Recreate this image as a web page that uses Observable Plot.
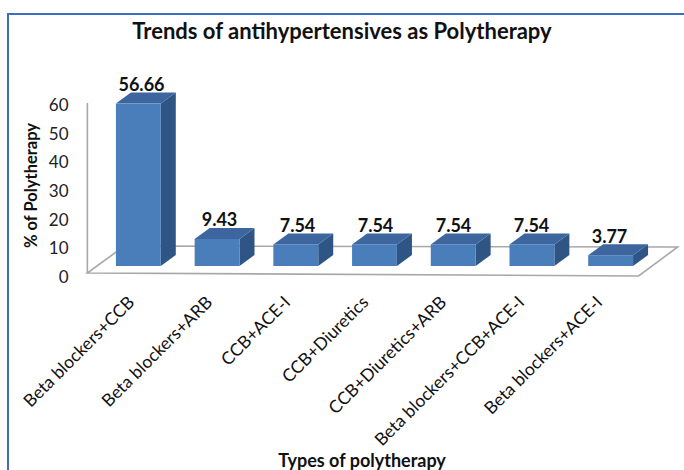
<!DOCTYPE html>
<html>
<head>
<meta charset="utf-8">
<script src="https://cdn.jsdelivr.net/npm/d3@7"></script>
<script src="https://cdn.jsdelivr.net/npm/@observablehq/plot@0.6"></script>
<style>
  html, body { margin: 0; padding: 0; background: #fff; }
  body { width: 684px; height: 470px; position: relative; overflow: hidden; font-family: Lato, "Open Sans", sans-serif; }
  #frame { position: absolute; left: 7px; top: 13px; width: 760px; height: 520px; border-left: 2px solid #3d6cc4; border-top: 2px solid #3d6cc4; }
  #chart { position: absolute; left: 0; top: 0; }
  #title { position: absolute; left: 0; top: 18px; width: 684px; text-align: center; font-weight: bold; font-size: 22px; line-height: 26px; color: #111; }
  #xtitle { position: absolute; left: 262px; top: 449px; width: 200px; text-align: center; font-weight: bold; font-size: 18px; line-height: 22px; color: #111; white-space: nowrap; }
</style>
</head>
<body>
<div id="frame"></div>
<div id="chart"></div>
<div id="title"></div>
<div id="xtitle"></div>
<script>
const chartTitle = "Trends of antihypertensives as Polytherapy";
const xTitle = "Types of polytherapy";
const yTitle = "% of Polytherapy";
const categories = [
  "Beta blockers+CCB",
  "Beta blockers+ARB",
  "CCB+ACE-I",
  "CCB+Diuretics",
  "CCB+Diuretics+ARB",
  "Beta blockers+CCB+ACE-I",
  "Beta blockers+ACE-I"
];
const values = [56.66, 9.43, 7.54, 7.54, 7.54, 7.54, 3.77];
const labels = ["56.66", "9.43", "7.54", "7.54", "7.54", "7.54", "3.77"];
const yTicks = [0, 10, 20, 30, 40, 50, 60];

document.getElementById("title").textContent = chartTitle;
document.getElementById("xtitle").textContent = xTitle;

const data = categories.map((c, i) => ({category: c, value: values[i], label: labels[i]}));

// 3D styling
const padIn = 0.43, padOut = 0.215;
const depthX = 15, depthY = -11, lift = -11;
const frontColor = "#4a7ebb", topColor = "#3d669f", sideColor = "#2f5585";
const floorColor = "#a8a8a8";

// band geometry matching the plot's x scale (same domain, range and padding)
function bandOf(scales) {
  return d3.scaleBand(categories, scales.x.range()).paddingInner(padIn).paddingOuter(padOut);
}

function floorMark(index, scales) {
  const g = d3.create("svg:g");
  const xb = bandOf(scales);
  const c0 = xb(categories[0]) + xb.bandwidth() / 2;
  const c1 = xb(categories[categories.length - 1]) + xb.bandwidth() / 2;
  const y0 = scales.y(0);
  const yMax = scales.y(d3.max(yTicks));
  const pts = [[c0 - 51, y0 - 4], [c1 + 28, y0 - 1], [c1 + 67, y0 - 30], [c0 - 14, y0 - 31]];
  g.append("path")
    .attr("d", "M" + pts.map(p => p.join(",")).join("L") + "Z")
    .attr("fill", "none")
    .attr("stroke", floorColor)
    .attr("stroke-width", 1.6);
  g.append("line")
    .attr("x1", c0 - 51).attr("x2", c0 - 51)
    .attr("y1", y0 - 4).attr("y2", yMax - 2)
    .attr("stroke", floorColor)
    .attr("stroke-width", 1.6);
  return g.node();
}

function barsMark(index, scales) {
  const g = d3.create("svg:g");
  const xb = bandOf(scales);
  const bw = xb.bandwidth();
  const b0 = scales.y(0) + lift;
  for (const d of data) {
    const x0 = xb(d.category), x1 = x0 + bw;
    const yt = scales.y(d.value) + lift;
    g.append("path")
      .attr("d", `M${x1},${b0}L${x1 + depthX},${b0 + depthY}L${x1 + depthX},${yt + depthY}L${x1},${yt}Z`)
      .attr("fill", sideColor);
    g.append("path")
      .attr("d", `M${x0},${yt}L${x0 + depthX},${yt + depthY}L${x1 + depthX},${yt + depthY}L${x1},${yt}Z`)
      .attr("fill", topColor);
    g.append("rect")
      .attr("x", x0).attr("y", yt)
      .attr("width", bw).attr("height", b0 - yt)
      .attr("fill", frontColor);
  }
  return g.node();
}

const plot = Plot.plot({
  width: 684,
  height: 470,
  marginLeft: 99,
  marginRight: 34,
  marginTop: 105,
  marginBottom: 193,
  style: {fontFamily: "Lato, 'Open Sans', sans-serif", fontSize: "17px", color: "#222", background: "transparent", overflow: "visible"},
  x: {domain: categories, paddingInner: padIn, paddingOuter: padOut, axis: null},
  y: {domain: [0, 60], ticks: yTicks, tickSize: 0, tickPadding: 31, label: null, grid: false},
  marks: [
    floorMark,
    barsMark,
    Plot.text(data, {x: "category", y: "value", text: "label", dy: -24, lineAnchor: "bottom", fontWeight: "bold", fontSize: 18, fill: "#111"}),
    Plot.text(data, {x: "category", text: "category", frameAnchor: "bottom", rotate: -45, textAnchor: "end", lineAnchor: "bottom", dx: -6, dy: 26, fontSize: 17.5, fill: "#111"}),
    Plot.text([yTitle], {frameAnchor: "left", rotate: -90, textAnchor: "middle", dx: -68, dy: -6, fontWeight: "bold", fontSize: 16.5, fill: "#111"})
  ]
});
document.getElementById("chart").appendChild(plot);
</script>
</body>
</html>
